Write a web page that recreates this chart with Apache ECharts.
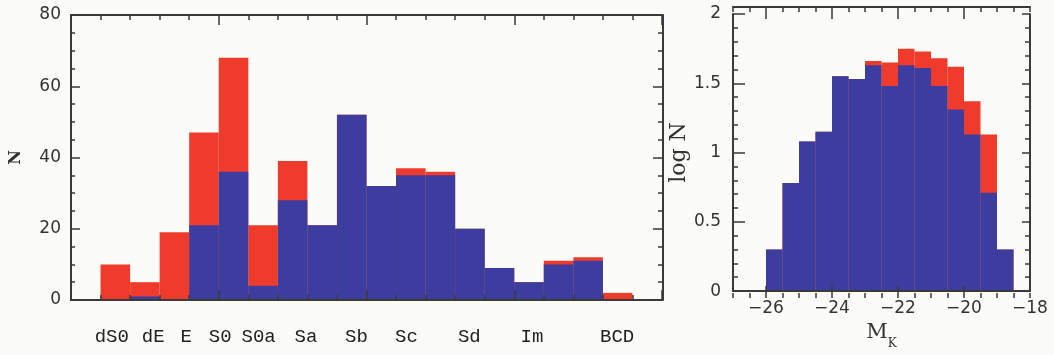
<!DOCTYPE html>
<html>
<head>
<meta charset="utf-8">
<script src="https://cdn.jsdelivr.net/npm/echarts@6/dist/echarts.min.js"></script>
<style>
html,body{margin:0;padding:0;background:#fbfbf7;}
#c{width:1054px;height:355px;}
</style>
</head>
<body>
<div id="c"></div>
<script>
// ---- Left panel: morphological type histogram (bins of width 1) ----
const typeBinLeft = [1,2,3,4,5,6,7,8,9,10,11,12,13,14,15,16,17,18];
const typeTotal   = [10,5,19,47,68,21,39,21,52,32,37,36,20,9,5,11,12,2];
const typeSubset  = [0,1,0,21,36,4,28,21,52,32,35,35,20,9,5,10,11,0];
const typeBinWidth = 1;
const typeNames   = ['dS0','dE','E','S0','S0a','Sa','Sb','Sc','Sd','Im','BCD'];
const typeNamePos = [1.38,2.78,3.9,5.05,6.35,7.95,9.66,11.35,13.48,15.6,18.48];

// ---- Right panel: M_K histogram (bins of width 0.5) ----
const mkBinLeft  = [-26,-25.5,-25,-24.5,-24,-23.5,-23,-22.5,-22,-21.5,-21,-20.5,-20,-19.5,-19];
const mkTotal    = [0.30,0.78,1.08,1.15,1.55,1.53,1.66,1.65,1.75,1.73,1.68,1.62,1.37,1.13,0.30];
const mkSubset   = [0.30,0.78,1.08,1.15,1.55,1.53,1.63,1.48,1.63,1.61,1.48,1.31,1.13,0.71,0.30];
const mkBinWidth = 0.5;
const mkXLabels  = [-26,-24,-22,-20,-18];
const mkMajorTicks = [-26,-24,-22,-20];

const RED = '#ee3b2b', BLUE = '#3d3d9f', INK = '#3a3a3a';
const numFont = {fontFamily:'DejaVu Sans', fontSize:17, color:'#333'};
const L = {w:592, h:285}, R = {w:297, h:284};

function bins(lefts, vals, w){ return lefts.map((l,i)=>[l, l+w, vals[i]]); }
function histItem(color){
  return function(params, api){
    const p0 = api.coord([api.value(0), api.value(2)]);
    const p1 = api.coord([api.value(1), 0]);
    return {type:'rect', shape:{x:p0[0], y:p0[1], width:p1[0]-p0[0], height:p1[1]-p0[1]},
            style:{fill:color}};
  };
}
const line = {show:true, onZero:false, lineStyle:{color:INK, width:2}};
const noLine = {show:false, onZero:false};
const tick = (len, extra)=>Object.assign({show:true, inside:false, length:len, lineStyle:{color:INK,width:1.5}}, extra||{});
const minor = (n,len)=>({show:true, splitNumber:n, length:len, lineStyle:{color:INK,width:1.5}});
// an axis used only to draw ticks; placed on the opposite side via offset so ticks point into the plot
function tickAxis(grid, pos, offset, opts){
  return Object.assign({type:'value', gridIndex:grid, position:pos, offset:offset, z:10,
    axisLine:noLine, splitLine:{show:false}, minorSplitLine:{show:false},
    axisLabel:{show:false}, axisTick:{show:false}}, opts);
}

const option = {
  backgroundColor:'#fbfbf7',
  animation:false,
  grid:[
    {left:70, top:15, width:L.w, height:L.h},
    {left:733, top:14, width:R.w, height:R.h}
  ],
  xAxis:[
    {type:'value', gridIndex:0, position:'bottom', min:0, max:20, z:10,
      axisLine:line, axisTick:{show:false}, splitLine:{show:false},
      axisLabel:{show:true, customValues:typeNamePos, margin:27,
        fontFamily:'Liberation Mono', fontSize:19, color:'#222',
        formatter:(v)=>{const i=typeNamePos.indexOf(v); return i>=0?typeNames[i]:'';}}},
    tickAxis(0,'top',-L.h,{min:0,max:20,interval:5, axisTick:tick(10), minorTick:minor(5,5)}),
    tickAxis(0,'bottom',-L.h,{min:0,max:20,interval:5, axisLine:line, axisTick:tick(10), minorTick:minor(5,5)}),
    {type:'value', gridIndex:1, position:'bottom', min:-27, max:-18, z:10,
      axisLine:line, axisTick:{show:false}, splitLine:{show:false},
      axisLabel:Object.assign({show:true, customValues:mkXLabels, margin:9,
        formatter:(v)=> v<0 ? '\u2212' + Math.abs(v) : String(v)}, numFont),
      name:'{m|M}{k|K}', nameLocation:'middle', nameGap:22,
      nameTextStyle:{color:'#333', rich:{
        m:{fontFamily:'DejaVu Serif', fontSize:21, lineHeight:28, verticalAlign:'top', color:'#333'},
        k:{fontFamily:'DejaVu Serif', fontSize:12, lineHeight:28, verticalAlign:'bottom', color:'#333'}}}},
    tickAxis(1,'top',-R.h,{min:-27,max:-18,interval:0.5, axisTick:tick(5)}),
    tickAxis(1,'top',-R.h,{min:-27,max:-18, axisTick:tick(12,{customValues:mkMajorTicks})}),
    tickAxis(1,'bottom',-R.h,{min:-27,max:-18,interval:0.5, axisLine:line, axisTick:tick(5)}),
    tickAxis(1,'bottom',-R.h,{min:-27,max:-18, axisTick:tick(12,{customValues:mkMajorTicks})})
  ],
  yAxis:[
    {type:'value', gridIndex:0, position:'left', min:0, max:80, interval:20, z:10,
      axisLine:line, splitLine:{show:false}, axisTick:{show:false},
      axisLabel:Object.assign({show:true, margin:10}, numFont),
      name:'N', nameLocation:'middle', nameGap:47, nameRotate:90,
      nameTextStyle:{fontFamily:'DejaVu Serif', fontSize:16, fontWeight:'bold', color:'#333'}},
    tickAxis(0,'right',-L.w,{min:0,max:80,interval:20, axisTick:tick(10), minorTick:minor(4,5)}),
    tickAxis(0,'left',-L.w,{min:0,max:80,interval:20, axisLine:line, axisTick:tick(10), minorTick:minor(4,5)}),
    {type:'value', gridIndex:1, position:'left', min:0, max:2, interval:0.5, z:10,
      axisLine:line, splitLine:{show:false}, axisTick:{show:false},
      axisLabel:Object.assign({show:true, margin:12}, numFont),
      name:'log N', nameLocation:'middle', nameGap:27, nameRotate:90,
      nameTextStyle:{fontFamily:'DejaVu Serif', fontSize:22, color:'#333'}},
    tickAxis(1,'right',-R.w,{min:0,max:2,interval:0.5, axisTick:tick(12), minorTick:minor(5,5)}),
    tickAxis(1,'left',-R.w,{min:0,max:2,interval:0.5, axisLine:line, axisTick:tick(8), minorTick:minor(5,5)})
  ],
  series:[
    {type:'custom', xAxisIndex:0, yAxisIndex:0, renderItem:histItem(RED),
      encode:{x:[0,1], y:2}, data:bins(typeBinLeft, typeTotal, typeBinWidth)},
    {type:'custom', xAxisIndex:0, yAxisIndex:0, renderItem:histItem(BLUE),
      encode:{x:[0,1], y:2}, data:bins(typeBinLeft, typeSubset, typeBinWidth)},
    {type:'custom', xAxisIndex:3, yAxisIndex:3, renderItem:histItem(RED),
      encode:{x:[0,1], y:2}, data:bins(mkBinLeft, mkTotal, mkBinWidth)},
    {type:'custom', xAxisIndex:3, yAxisIndex:3, renderItem:histItem(BLUE),
      encode:{x:[0,1], y:2}, data:bins(mkBinLeft, mkSubset, mkBinWidth)}
  ]
};
echarts.init(document.getElementById('c')).setOption(option);
</script>
</body>
</html>
